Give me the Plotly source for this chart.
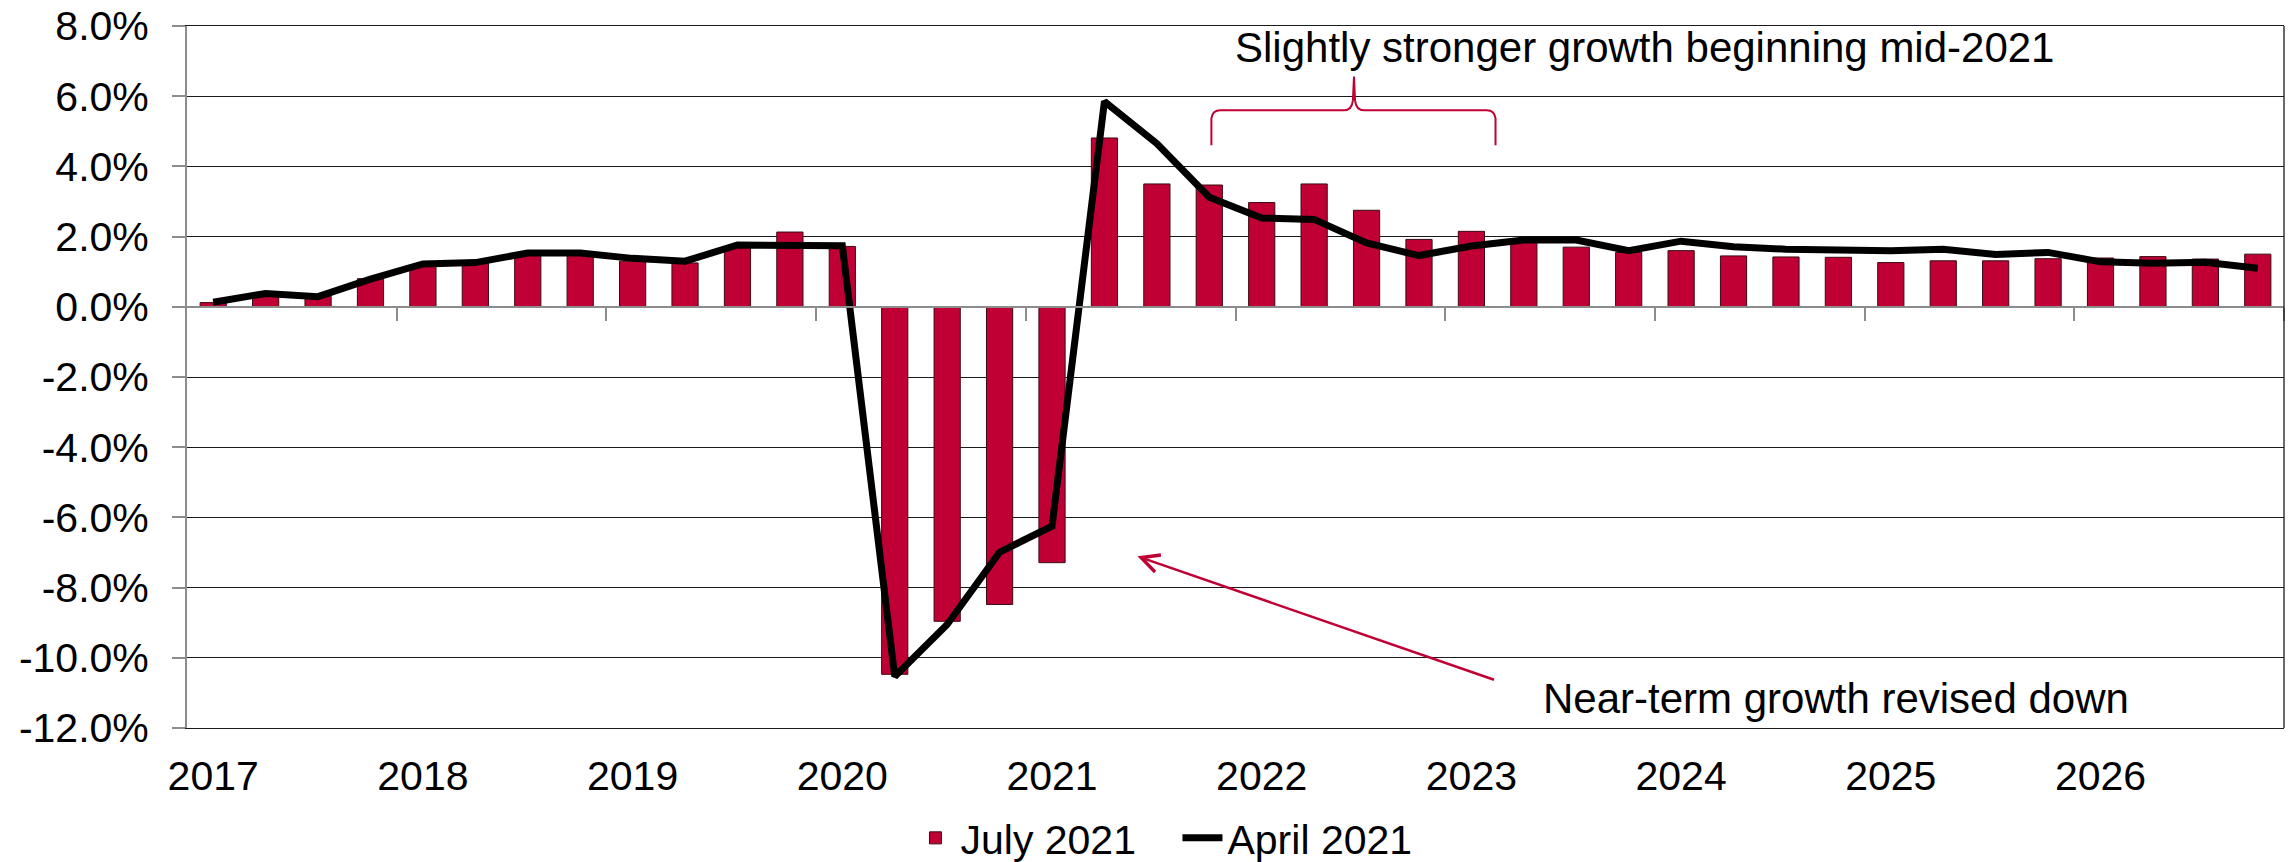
import plotly.graph_objects as go

# ---------------- data ----------------
years = ["2017", "2018", "2019", "2020", "2021", "2022", "2023", "2024", "2025", "2026"]
quarters = [f"{y}Q{q}" for y in years for q in (1, 2, 3, 4)]

july_2021 = [0.12, 0.30, 0.30, 0.80,
             1.20, 1.25, 1.50, 1.50,
             1.30, 1.25, 1.70, 2.13,
             1.72, -10.47, -8.96, -8.48,
             -7.29, 4.81, 3.50, 3.47,
             2.97, 3.50, 2.75, 1.92,
             2.15, 1.90, 1.70, 1.55,
             1.60, 1.45, 1.42, 1.41,
             1.26, 1.31, 1.31, 1.37,
             1.39, 1.43, 1.36, 1.50]

april_2021 = [0.13, 0.38, 0.29, 0.79,
              1.22, 1.26, 1.53, 1.53,
              1.38, 1.30, 1.76, 1.76,
              1.74, -10.53, -9.05, -6.99,
              -6.25, 5.85, 4.65, 3.12,
              2.53, 2.49, 1.82, 1.46,
              1.73, 1.90, 1.90, 1.60,
              1.87, 1.71, 1.64, 1.62,
              1.60, 1.64, 1.49, 1.55,
              1.28, 1.24, 1.27, 1.10]

y_ticks = [-12, -10, -8, -6, -4, -2, 0, 2, 4, 6, 8]

# ---------------- style ----------------
RED = "#C00034"
GRID = "#1a1a1a"
AXGRAY = "#8C8C8C"
FONT = "Liberation Sans, Arial, sans-serif"
FS = 41

x_idx = list(range(len(quarters)))
year_pos = [i for i, q in enumerate(quarters) if q.endswith("Q1")]
boundary_pos = [p - 0.5 for p in year_pos[1:]] + [len(quarters) - 0.5]

fig = go.Figure()
fig.add_trace(go.Bar(
    x=x_idx, y=july_2021, name="July 2021",
    marker=dict(color=RED, line=dict(color="#3a0a12", width=1)),
    xaxis="x", yaxis="y",
))
fig.add_trace(go.Scatter(
    x=x_idx, y=april_2021, name="April 2021", mode="lines",
    line=dict(color="black", width=7),
    xaxis="x2", yaxis="y",
))

xr = [-0.5, len(quarters) - 0.5]

# brace annotation path (decoration)
brace = ("M19.04,4.60 L19.04,5.37 Q19.06,5.60 19.21,5.60 L21.57,5.60 "
         "Q21.72,5.60 21.74,5.88 L21.76,6.56 L21.78,5.88 "
         "Q21.80,5.60 21.95,5.60 L24.29,5.60 Q24.44,5.60 24.46,5.37 L24.46,4.60")

fig.update_layout(
    width=2292, height=862,
    margin=dict(l=187, r=8, t=26, b=134, autoexpand=False),
    paper_bgcolor="white", plot_bgcolor="white",
    font=dict(family=FONT, size=FS, color="black"),
    bargap=0.5,
    showlegend=True,
    legend=dict(orientation="h", x=0.345, xanchor="left", y=-0.157, yanchor="middle",
                font=dict(size=FS), bgcolor="rgba(0,0,0,0)", itemwidth=40,
                entrywidth=212, tracegroupgap=0),
    xaxis=dict(
        range=xr, tickmode="array", tickvals=year_pos, ticktext=years,
        ticks="", ticklen=0, showgrid=False, zeroline=False,
        showline=True, linecolor=GRID, linewidth=1, mirror=True,
        tickfont=dict(size=FS), ticklabelstandoff=12,
    ),
    xaxis2=dict(
        range=xr, overlaying="x", anchor="free", position=0.6,
        showline=True, linecolor=AXGRAY, linewidth=2,
        ticks="outside", ticklen=13, tickwidth=2, tickcolor=AXGRAY,
        tickmode="array", tickvals=boundary_pos, showticklabels=False,
        showgrid=False, zeroline=False,
    ),
    yaxis=dict(
        range=[-12, 8], tickmode="array", tickvals=y_ticks,
        ticktext=[f"{v:.1f}%" for v in y_ticks],
        ticks="outside", ticklen=13, tickwidth=2, tickcolor=AXGRAY,
        showline=True, linecolor=AXGRAY, linewidth=2,
        showgrid=True, gridcolor=GRID, gridwidth=1.3, zeroline=False,
        tickfont=dict(size=FS), ticklabelstandoff=15,
    ),
    shapes=[
        dict(type="line", xref="paper", yref="paper", x0=1, x1=1, y0=0, y1=1,
             line=dict(color=GRID, width=1.3)),
        dict(type="path", xref="x", yref="y", path=brace,
             line=dict(color=RED, width=2)),
    ],
    annotations=[
        dict(text="Slightly stronger growth beginning mid-2021", x=27.3, y=7.4,
             xref="x", yref="y", showarrow=False, xanchor="center", yanchor="middle",
             font=dict(size=42)),
        dict(text="Near-term growth revised down", x=30.96, y=-11.15,
             xref="x", yref="y", showarrow=False, xanchor="center", yanchor="middle",
             font=dict(size=42)),
        dict(text="", x=17.63, y=-7.11, ax=24.46, ay=-10.64,
             xref="x", yref="y", axref="x", ayref="y",
             showarrow=True, arrowhead=5, arrowwidth=2.5, arrowsize=1.4,
             arrowcolor=RED),
    ],
)

fig.write_html(
    "out.html",
    config={"displayModeBar": False},
    post_script="document.body.style.margin='0';document.body.style.overflow='hidden';",
)
